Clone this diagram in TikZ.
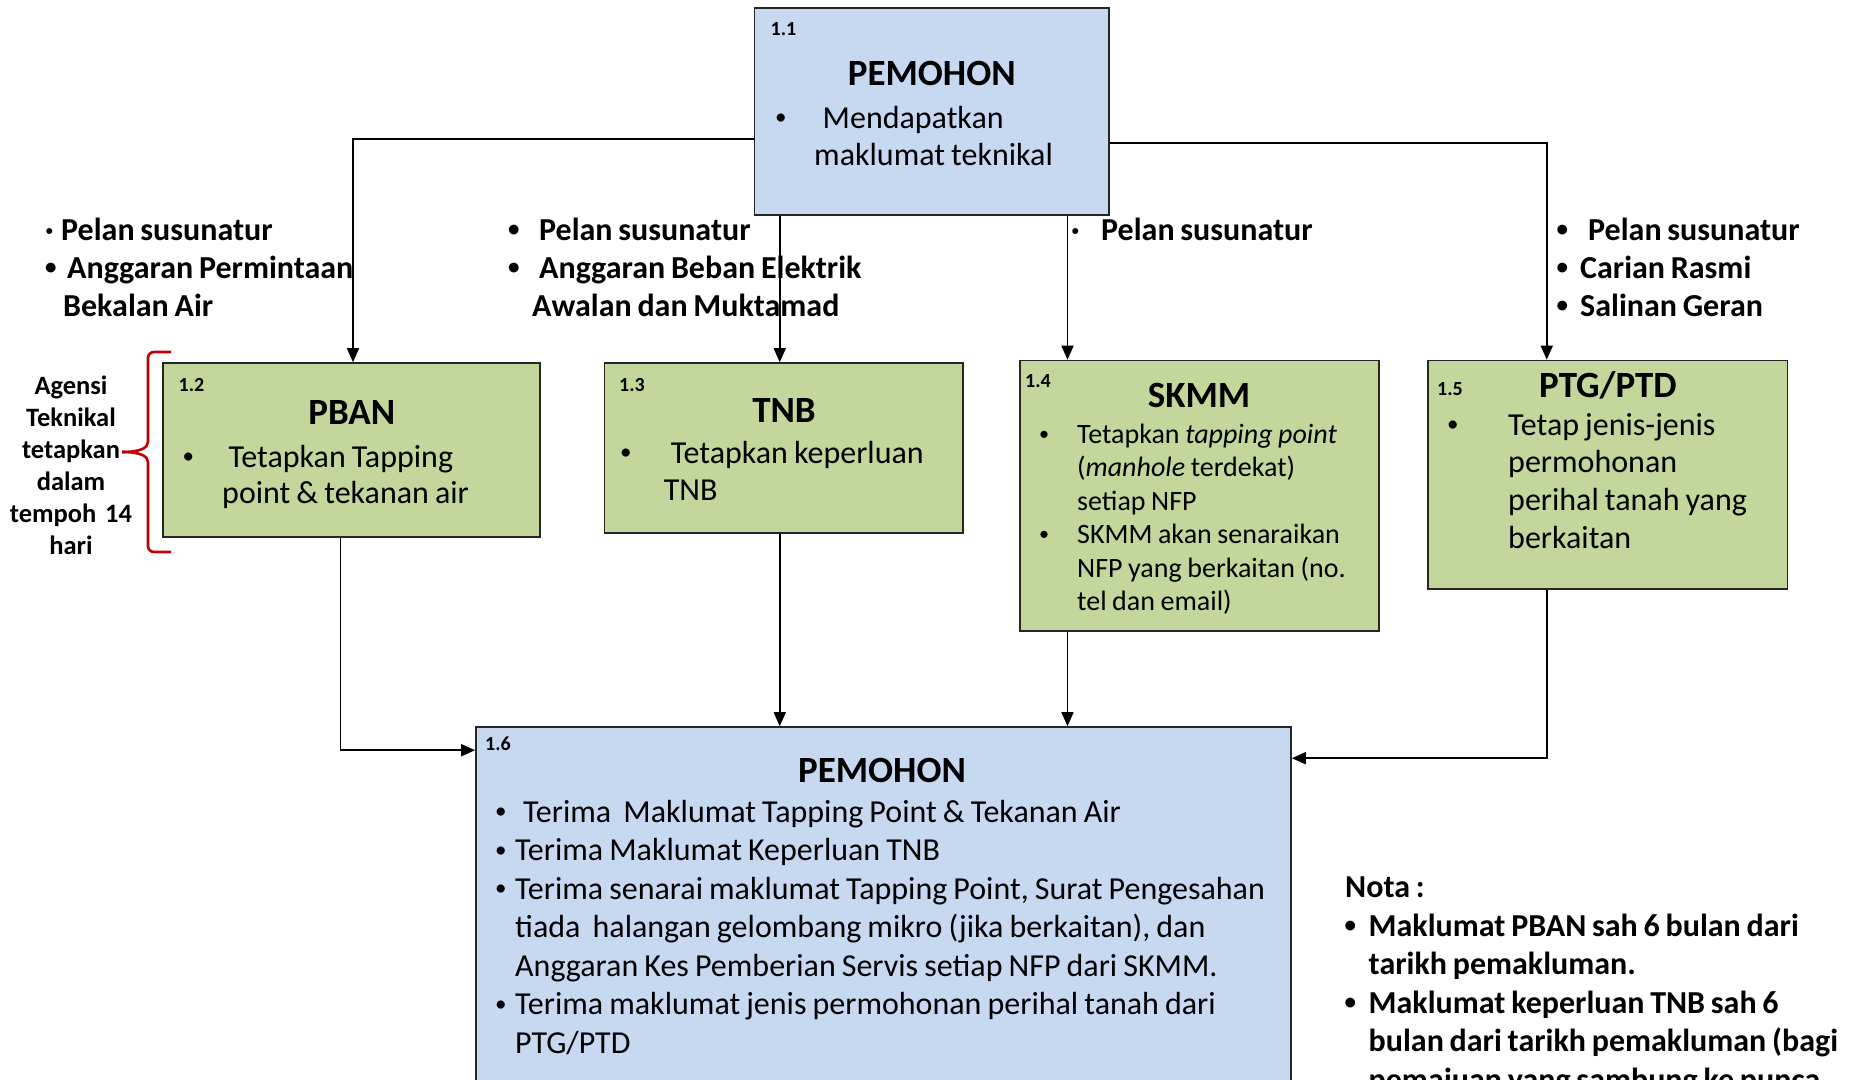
\documentclass[tikz,border=0pt]{standalone}
\usepackage{fontspec}
\usepackage{graphicx}
\setmainfont{Carlito}
\usetikzlibrary{arrows.meta}
\definecolor{boxblue}{RGB}{198,217,241}
\definecolor{boxgreen}{RGB}{195,214,155}
\definecolor{bracered}{RGB}{192,0,0}
\newcommand{\bul}{\raisebox{0.1em}{\scalebox{0.72}{•}}}
\newcommand{\tsp}[1]{\spaceskip=#1em\relax}
\begin{document}
\begin{tikzpicture}[x=1pt,y=-1pt,
  bluebox/.style={draw=black!85, line width=1.6pt, fill=boxblue, inner sep=0pt},
  greenbox/.style={draw=black!85, line width=1.6pt, fill=boxgreen, inner sep=0pt},
  arr/.style={line width=1.6pt, -{Triangle[length=14pt,width=12pt]}},
  brace/.style={draw=bracered, line width=2.6pt, rounded corners=6pt},
  ttl/.style={inner sep=0pt, anchor=base, font=\fontsize{37}{44}\selectfont\bfseries},
  num/.style={inner sep=0pt, anchor=base west, font=\fontsize{20}{24}\selectfont\bfseries},
  blk/.style={inner sep=0pt, anchor=base west, text width=1100pt, align=left},
  body/.style={font=\fontsize{32}{#1}\selectfont, execute at begin node=\tsp{0.19}},
  bbody/.style={font=\fontsize{32}{#1}\selectfont\bfseries, execute at begin node=\tsp{0.18}},
  sbody/.style={font=\fontsize{28}{33.5}\selectfont, execute at begin node=\tsp{0.2}}
]
\useasboundingbox (0,0) rectangle (1866,1079);

% boxes
\node[bluebox, minimum width=354.5pt, minimum height=207pt] (b11) at (931.75,111.5) {};
\node[greenbox, minimum width=377pt, minimum height=174pt] (pban) at (351.5,450) {};
\node[greenbox, minimum width=358.5pt, minimum height=170pt] (tnb) at (783.75,448) {};
\node[greenbox, minimum width=359pt, minimum height=270.5pt] (skmm) at (1199.5,495.75) {};
\node[greenbox, minimum width=359.5pt, minimum height=228.5pt] (ptg) at (1607.75,474.75) {};
\node[bluebox, minimum width=815pt, minimum height=403pt] (b16) at (883.5,928.5) {};

% connectors
\draw[arr] ([yshift=-27.5pt]b11.west) -| ([xshift=1.5pt]pban.north);
\draw[arr] ([xshift=-4pt]tnb.north |- b11.south) -- ([xshift=-4pt]tnb.north);
\draw[arr] ([xshift=-132pt]skmm.north |- b11.south) -- ([xshift=-132pt]skmm.north);
\draw[arr] ([yshift=-31.5pt]b11.east) -| ([xshift=-61pt]ptg.north);
\draw[arr] ([xshift=-11pt]pban.south) |- ([yshift=-24pt]b16.north west);
\draw[arr] ([xshift=-4pt]tnb.south) -- ([xshift=-4pt]tnb.south |- b16.north);
\draw[arr] ([xshift=-132pt]skmm.south) -- ([xshift=-132pt]skmm.south |- b16.north);
\draw[arr] ([xshift=-61pt]ptg.south) |- ([yshift=-32pt]b16.north east);

% box 1.1
\node[num] (n11) at (770.5,35) {1.1};
\node[ttl] (t11) at (931.75,85) {PEMOHON};
\node[blk, body=37] (x11) at (775,128) {\makebox[47.5pt][l]{\bul}Mendapatkan\\\hspace*{39pt}maklumat teknikal};

% labels above agencies
\node[blk, bbody=38] (l1) at (45,240) {\makebox[16pt][l]{·}Pelan susunatur\\\makebox[22pt][l]{\bul}Anggaran Permintaan\\\hspace*{18pt}Bekalan Air};
\node[blk, bbody=38] (l2) at (508,240) {\makebox[31pt][l]{\bul}Pelan susunatur\\\makebox[31pt][l]{\bul}Anggaran Beban Elektrik\\\hspace*{24pt}Awalan dan Muktamad};
\node[blk, bbody=38] (l3) at (1071,240) {\makebox[30pt][l]{·}Pelan susunatur};
\node[blk, bbody=38] (l4) at (1556.5,240) {\makebox[31.5pt][l]{\bul}Pelan susunatur\\\makebox[23.5pt][l]{\bul}Carian Rasmi\\\makebox[23.5pt][l]{\bul}Salinan Geran};

% PBAN
\node[num] (n12) at (178.5,391) {1.2};
\node[ttl] (t12) at (351.8,424) {PBAN};
\node[blk, body=36] (x12) at (182.5,467) {\makebox[46pt][l]{\bul}Tetapkan Tapping\\\hspace*{39.5pt}point \& tekanan air};

% TNB
\node[num] (n13) at (619,391) {1.3};
\node[ttl] (t13) at (784,422) {TNB};
\node[blk, body=37] (x13) at (620,463) {\makebox[50.7pt][l]{\bul}Tetapkan keperluan\\\hspace*{43.6pt}TNB};

% SKMM
\node[num] (n14) at (1025,387) {1.4};
\node[ttl] (t14) at (1199,407) {SKMM};
\node[blk, sbody] (x14) at (1039,443) {\makebox[38pt][l]{\bul}Tetapkan \textit{tapping point}\\\hspace*{38pt}(\textit{manhole} terdekat)\\\hspace*{38pt}setiap NFP\\\makebox[38pt][l]{\bul}SKMM akan senaraikan\\\hspace*{38pt}NFP yang berkaitan (no.\\\hspace*{38pt}tel dan email)};

% PTG/PTD
\node[num] (n15) at (1437,395) {1.5};
\node[ttl] (t15) at (1608,397) {PTG/PTD};
\node[blk, body=37.7] (x15) at (1447,435) {\makebox[61pt][l]{\bul}Tetap jenis-jenis\\\hspace*{61pt}permohonan\\\hspace*{61pt}perihal tanah yang\\\hspace*{61pt}berkaitan};

% box 1.6
\node[num] (n16) at (485,750) {1.6};
\node[ttl] (t16) at (882,782) {PEMOHON};
\node[blk, body=38.5] (x16) at (495,822) {\makebox[28pt][l]{\bul}Terima\ \ Maklumat Tapping Point \& Tekanan Air\\\makebox[20pt][l]{\bul}Terima Maklumat Keperluan TNB\\\makebox[20pt][l]{\bul}Terima senarai maklumat Tapping Point, Surat Pengesahan\\\hspace*{20pt}tiada\ \ halangan gelombang mikro (jika berkaitan), dan\\\hspace*{20pt}Anggaran Kes Pemberian Servis setiap NFP dari SKMM.\\\makebox[20pt][l]{\bul}Terima maklumat jenis permohonan perihal tanah dari\\\hspace*{20pt}PTG/PTD};

% Nota
\node[blk, bbody=38.5] (nota) at (1345,897) {Nota :};
\node[blk, bbody=38.5] (notax) at (1344.5,936) {\makebox[24pt][l]{\bul}Maklumat PBAN sah 6 bulan dari\\\hspace*{24pt}tarikh pemakluman.\\\makebox[24pt][l]{\bul}Maklumat keperluan TNB sah 6\\\hspace*{24pt}bulan dari tarikh pemakluman (bagi\\\hspace*{24pt}pemajuan yang sambung ke punca};

% Agensi brace
\node[inner sep=0pt, anchor=base, text width=140pt, align=center, font=\fontsize{26.5}{32}\selectfont\bfseries] (ag) at (71,394) {Agensi\\Teknikal\\tetapkan\\dalam\\tempoh 14\\hari};
\draw[brace] (171,352) -- (148,352) -- (148,436) .. controls (148,448) and (140,452) .. (122,452);
\draw[brace] (171,552) -- (148,552) -- (148,468) .. controls (148,456) and (140,452) .. (122,452);
\end{tikzpicture}
\end{document}
